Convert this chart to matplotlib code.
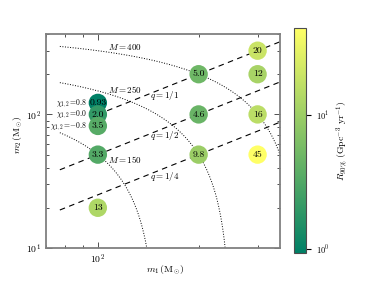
import numpy as np
import matplotlib
matplotlib.use('Agg')
import matplotlib.pyplot as plt
from matplotlib.colors import LogNorm
from matplotlib.ticker import NullFormatter

plt.rcParams['font.family'] = 'serif'
plt.rcParams['font.serif'] = ['cmr10', 'DejaVu Serif']
plt.rcParams['mathtext.fontset'] = 'cm'
plt.rcParams['axes.unicode_minus'] = False
plt.rcParams['axes.formatter.use_mathtext'] = True

# injection grid (the three m1=m2=100 points are spread vertically, one per spin)
m1 = [100, 100, 100, 100, 100, 200, 200, 200, 300, 300, 300, 300]
m2 = [122, 100, 82, 50, 20, 200, 100, 50, 300, 200, 100, 50]
rate = [0.93, 2.0, 3.5, 3.3, 13, 5.0, 4.6, 9.8, 20, 12, 16, 45]
rate_txt = ['0.93', '2.0', '3.5', '3.3', '13', '5.0', '4.6', '9.8', '20', '12', '16', '45']

chi_labels = [r'$\chi_{1,2}\!=\!0.8$', r'$\chi_{1,2}\!=\!0.0$', r'$\chi_{1,2}\!=\!{-0.8}$']
chi_m2 = [122, 100, 82]

mass_tot = [400, 250, 150]
mass_lab_m2 = [318, 154, 46]
q_vals = [1.0, 0.5, 0.25]
q_names = ['1/1', '1/2', '1/4']
q_lab_m2 = [139, 70, 34.4]

fig = plt.figure(figsize=(3.76, 2.82), dpi=100)
ax = fig.add_axes([0.1223, 0.1206, 0.6224, 0.7588])
cax = fig.add_axes([0.782, 0.103, 0.032, 0.798])

ax.set_xscale('log')
ax.set_yscale('log')
ax.set_xlim(70, 350)
ax.set_ylim(10, 400)

# lines of constant total mass
for M in mass_tot:
    x = np.linspace(77, min(350, M - 1), 400)
    ax.plot(x, M - x, ':', color='k', lw=0.7, zorder=1)
# lines of constant mass ratio
for q in q_vals:
    start = 100 if q == 1.0 else 77
    x = np.array([start, 350])
    ax.plot(x, q * x, '--', color='k', lw=0.8, dashes=(5, 4), zorder=1)

norm = LogNorm(vmin=min(rate), vmax=max(rate))
sc = ax.scatter(m1, m2, c=rate, cmap='summer', norm=norm, s=175,
                edgecolors='none', zorder=3)
for xi, yi, t in zip(m1, m2, rate_txt):
    ax.text(xi, yi, t, ha='center', va='center', fontsize=7, zorder=4)

for lab, yi in zip(chi_labels, chi_m2):
    ax.text(92.7, yi, lab, ha='right', va='center', fontsize=5.5, zorder=4)

for M, yi in zip(mass_tot, mass_lab_m2):
    ax.text(120.6, yi, r'$M = %d$' % M, ha='center', va='center', fontsize=6.5, zorder=2)
for name, yi in zip(q_names, q_lab_m2):
    ax.text(158, yi, r'$q = %s$' % name, ha='center', va='center', fontsize=6.5, zorder=2)

for sp in ax.spines.values():
    sp.set_color('0.5')
    sp.set_linewidth(1.3)
ax.xaxis.set_minor_formatter(NullFormatter())
ax.yaxis.set_minor_formatter(NullFormatter())
ax.tick_params(which='both', direction='in', top=True, right=True,
               labelsize=7, color='0.2')
ax.tick_params(which='major', length=4, width=0.6)
ax.tick_params(which='minor', length=2.5, width=0.6)

ax.set_xlabel(r'$m_1\,(\mathrm{M}_{\odot})$', fontsize=7)
ax.set_ylabel(r'$m_2\,(\mathrm{M}_{\odot})$', fontsize=7)
ax.xaxis.set_label_coords(0.51, -0.075)
ax.yaxis.set_label_coords(-0.09, 0.53)

cb = fig.colorbar(sc, cax=cax)
cb.outline.set_edgecolor('0.3')
cb.outline.set_linewidth(0.8)
cax.tick_params(which='both', labelsize=6, direction='out')
cax.tick_params(which='minor', length=0)
cb.set_label(r'$R_{90\%}\ (\mathrm{Gpc}^{-3}\ \mathrm{yr}^{-1})$', fontsize=7)

fig.savefig('out.png', dpi=100)
